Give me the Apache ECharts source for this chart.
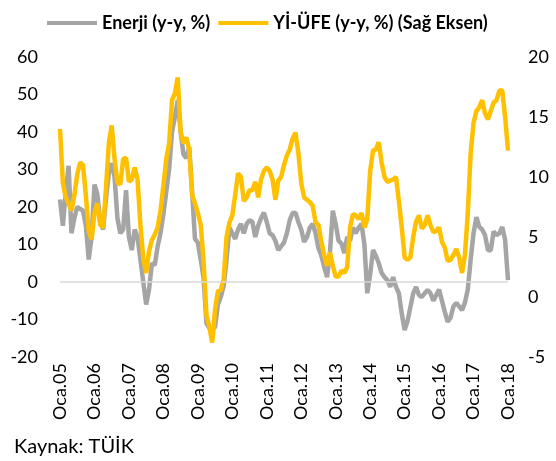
<!DOCTYPE html>
<html>
<head>
<meta charset="utf-8">
<script src="https://cdn.jsdelivr.net/npm/echarts@6/dist/echarts.min.js"></script>
<style>
  html, body { margin: 0; padding: 0; background: #fff; }
  #chart { width: 556px; height: 461px; }
</style>
</head>
<body>
<div id="chart"></div>
<script>
// monthly, Oca.05 .. Oca.18
const monthNames = ['Oca', 'Şub', 'Mar', 'Nis', 'May', 'Haz', 'Tem', 'Ağu', 'Eyl', 'Eki', 'Kas', 'Ara'];
const years = ['05', '06', '07', '08', '09', '10', '11', '12', '13', '14', '15', '16', '17', '18'];

// Enerji (y-y, %) - left axis
const enerji = [
  22, 15, 24, 31, 13, 17, 20, 19.5, 19, 15, 6, 12,
  26, 23.5, 16, 14, 22, 29, 31.7, 28, 17, 13, 14, 24.5,
  12, 8.5, 14, 12, 6, 0, -6, -2, 5, 4.5, 9.5,
  13, 18, 24, 30, 40, 44, 48.5, 40, 34, 33,
  36, 24, 11.5, 10.5, 6, 1, -11, -12.3, -12.5, -12,
  -6, -4, -1, 6, 14.5, 13, 11.5, 14, 15.5, 13,
  15.5, 16.5, 16, 12, 15, 17, 18.5, 16, 13, 12.5,
  11, 8.5, 9.5, 10.5, 13, 16.5, 18.4, 18.5, 16, 14,
  10.7, 12, 14.5, 15.5, 13, 9, 7, 4, 1.3, 8,
  19, 15.5, 11, 10.3, 7.7, 12, 11, 14.5, 13, 14.5,
  15.5, 10, -3, 2, 8.5, 7, 5, 2.4, 1.3, 0.5,
  -1.3, 1.3, -1.3, -3, -8.4, -12.8, -10.5, -6.7, -3, -1.3,
  -3.5, -4, -3, -2.1, -3, -5, -3.5, -2, -5, -8,
  -10.6, -9.5, -6.5, -5.6, -6.5, -7.5, -5.5, -2, 6, 13,
  17.3, 14.7, 14, 12.5, 8.5, 8.5, 13.5, 12.5, 13, 14.7, 11.2,
  0.5
];

// Yİ-ÜFE (y-y, %) - right axis
const yiUfe = [
  14.0, 9.5, 8.3, 7.8, 7.2, 8.5, 10.2, 11.2, 11.0, 8.5, 5.5, 4.8,
  7.0, 7.8, 6.0, 5.8, 9.0, 12.8, 14.3, 11.5, 9.5, 9.4, 11.5, 11.6,
  9.6, 9.8, 10.8, 9.8, 6.0, 3.2, 2.0, 3.8, 4.75, 5.2, 5.8,
  7.2, 9.3, 11.5, 12.8, 16.4, 17.0, 18.3, 13.8, 12.8, 13.3,
  12.3, 8.5, 7.8, 7.0, 6.0, 3.0, -1.5, -2.5, -3.8, -1.0,
  0.5, 0.6, 1.5, 5.0, 6.2, 6.8, 8.5, 10.3, 10.0, 8.0,
  8.3, 8.9, 8.9, 9.6, 8.3, 9.8, 10.5, 10.8, 10.5, 9.8,
  8.1, 9.7, 10.0, 11.0, 11.8, 12.3, 13.2, 13.7, 12.0, 9.5,
  8.3, 8.1, 7.9, 7.6, 6.2, 6.0, 4.6, 3.5, 2.6, 3.7,
  2.6, 1.7, 1.7, 2.2, 2.0, 2.5, 5.8, 6.9, 6.8, 6.5,
  7.0, 5.8, 6.5, 10.5, 12.2, 12.3, 12.9, 11.2, 10.0, 9.6,
  9.7, 9.8, 10.0, 8.0, 5.8, 3.3, 3.1, 3.3, 5.0, 6.3,
  6.8, 5.7, 6.0, 6.8, 6.0, 5.4, 5.5, 5.8, 4.6, 4.1,
  3.0, 3.1, 3.5, 4.0, 3.3, 2.0, 3.5, 7.0, 12.0, 14.5,
  15.5, 15.8, 16.4, 15.3, 14.8, 15.5, 16.2, 16.4,
  17.2, 17.2, 15.0, 12.2
];

const categories = [];
years.forEach((y, k) => {
  monthNames.forEach((m, j) => {
    if (k < years.length - 1 || j === 0) categories.push(m + '.' + y);
  });
});
if (enerji.length !== categories.length || yiUfe.length !== categories.length) {
  throw new Error('length mismatch ' + categories.length + ' ' + enerji.length + ' ' + yiUfe.length);
}

const font = 'Lato, "Open Sans", sans-serif';
const chart = echarts.init(document.getElementById('chart'));

chart.setOption({
  animation: false,
  textStyle: { fontFamily: font },
  legend: {
    top: 9,
    left: 42,
    icon: 'rect',
    itemWidth: 50,
    itemHeight: 4,
    itemGap: 8,
    textStyle: { fontSize: 18, fontWeight: 'bold', color: '#000', fontFamily: font }
  },
  grid: { left: 60, right: 48, top: 57, bottom: 104 },
  xAxis: {
    type: 'category',
    data: categories,
    boundaryGap: false,
    axisLine: { show: false },
    axisTick: { show: false },
    axisLabel: {
      interval: (i) => i % 12 === 0,
      rotate: 90,
      margin: 6,
      fontSize: 18,
      color: '#000',
      fontFamily: font
    }
  },
  yAxis: [
    {
      type: 'value',
      min: -20,
      max: 60,
      interval: 10,
      splitLine: { show: false },
      axisLabel: { fontSize: 18, color: '#000', margin: 22, fontFamily: font }
    },
    {
      type: 'value',
      position: 'right',
      min: -5,
      max: 20,
      interval: 5,
      splitLine: { show: false },
      axisLabel: { fontSize: 18, color: '#000', margin: 20, fontFamily: font }
    }
  ],
  series: [
    {
      name: 'Enerji (y-y, %)',
      type: 'line',
      yAxisIndex: 0,
      data: enerji,
      showSymbol: false,
      color: '#A5A5A5',
      lineStyle: { width: 4.5, color: '#A5A5A5' },
      markLine: {
        silent: true,
        symbol: 'none',
        label: { show: false },
        lineStyle: { color: '#D9D9D9', width: 1.5, type: 'solid' },
        data: [{ yAxis: 0 }]
      },
      z: 2
    },
    {
      name: 'Yİ-ÜFE (y-y, %) (Sağ Eksen)',
      type: 'line',
      yAxisIndex: 1,
      data: yiUfe,
      showSymbol: false,
      color: '#FFC000',
      lineStyle: { width: 4.5, color: '#FFC000' },
      z: 3
    }
  ],
  graphic: [
    {
      type: 'text',
      left: 14,
      top: 437,
      style: { text: 'Kaynak: TÜİK', fontSize: 20, fill: '#000', fontFamily: font }
    }
  ]
});

window.addEventListener('resize', chart.resize);
</script>
</body>
</html>
